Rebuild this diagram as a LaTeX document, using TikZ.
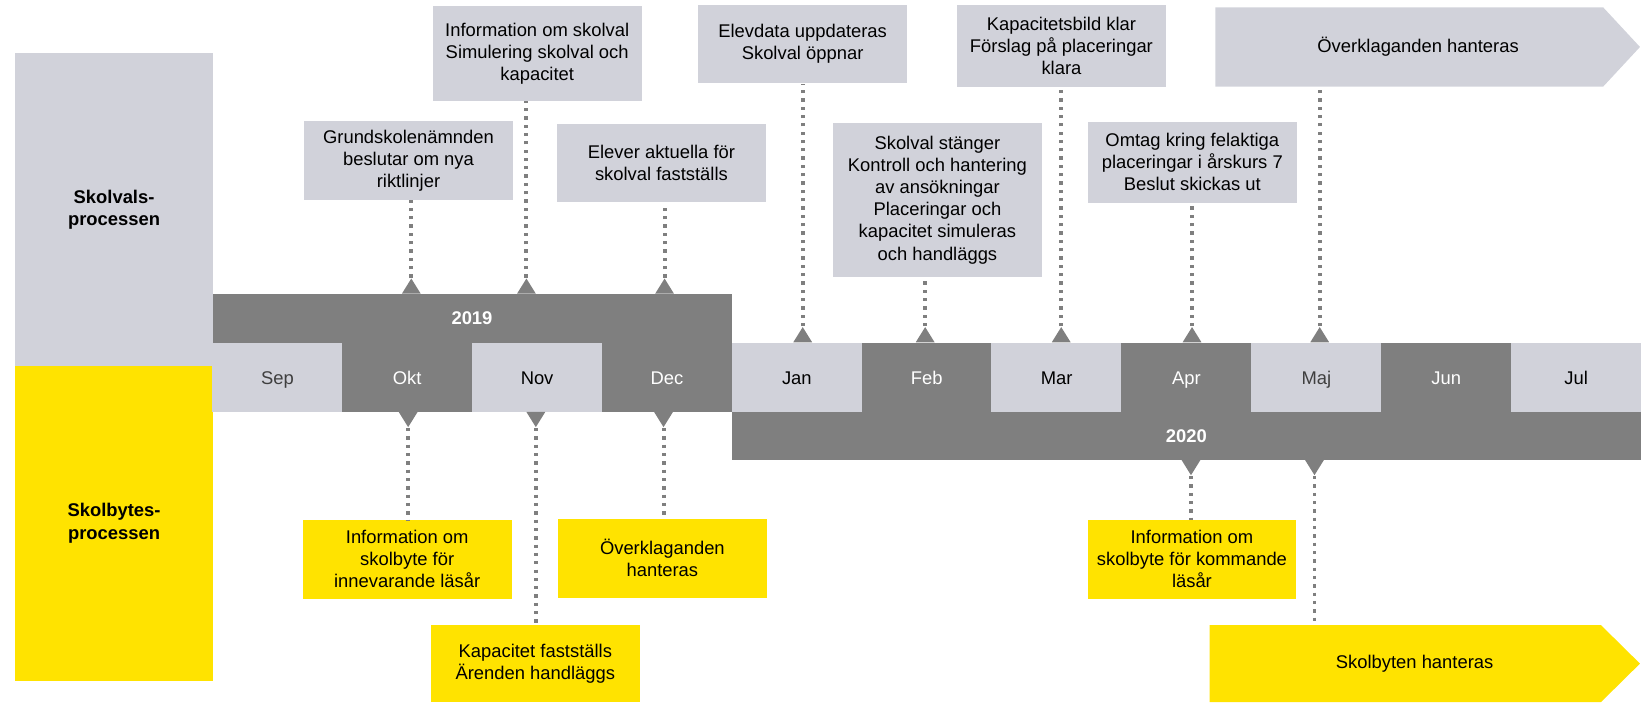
\documentclass[tikz,border=0pt]{standalone}
\usepackage{fontspec}
\setmainfont{Liberation Sans}
\usetikzlibrary{shapes.geometric}
\definecolor{lgrey}{HTML}{D1D2DA}
\definecolor{dgrey}{HTML}{7F7F7F}
\definecolor{ylw}{HTML}{FFE300}
\definecolor{mtext}{HTML}{3F3F3F}
\begin{document}
\begin{tikzpicture}[x=0.02cm,y=-0.02cm]
\tikzstyle{every node}+=[inner sep=0pt, font=\fontsize{10}{12}\selectfont, align=center]
\tikzstyle{bold}=[font=\fontsize{10}{12}\selectfont\bfseries]
\tikzstyle{gbox}=[fill=lgrey, minimum width=3.99cm, minimum height=1.5cm]
\tikzstyle{ybox}=[fill=ylw, minimum width=3.99cm, minimum height=1.5cm]
\tikzstyle{lmon}=[fill=lgrey, minimum width=2.49cm, minimum height=1.32cm, text height=7.5pt, text depth=0pt]
\tikzstyle{dmon}=[lmon, fill=dgrey, text=white]
\tikzstyle{upmark}=[isosceles triangle, shape border rotate=90, isosceles triangle stretches, fill=dgrey, minimum width=0.36cm, minimum height=0.29cm, anchor=lower side]
\tikzstyle{downmark}=[upmark, shape border rotate=270]
\tikzstyle{link}=[dgrey, line width=0.076cm, dash pattern=on 0.063cm off 0.096cm]
\useasboundingbox (0,0) rectangle (1568,671);
% process labels
\node[bold, fill=lgrey, minimum width=3.78cm, minimum height=5.98cm] (skolval) at (109,200) {Skolvals-\\processen};
\node[bold, fill=ylw, minimum width=3.78cm, minimum height=6.02cm] (skolbyte) at (109,500) {Skolbytes-\\processen};
% years
\node[bold, fill=dgrey, text=white, minimum width=9.92cm, minimum height=0.93cm] (y19) at (451,304.2) {2019};
\node[bold, fill=dgrey, text=white, minimum width=17.38cm, minimum height=0.92cm] (y20) at (1133.5,416.3) {2020};
% months
\node[lmon, text=mtext] (sep) at (265.05,360.4) {Sep};
\node[dmon] (okt) at (389.1,360.4) {Okt};
\node[lmon] (nov) at (513.2,360.4) {Nov};
\node[dmon] (dec) at (637.3,360.4) {Dec};
\node[lmon] (jan) at (761.4,360.4) {Jan};
\node[dmon] (feb) at (885.5,360.4) {Feb};
\node[lmon] (mar) at (1009.6,360.4) {Mar};
\node[dmon] (apr) at (1133.7,360.4) {Apr};
\node[lmon, text=mtext] (maj) at (1257.8,360.4) {Maj};
\node[dmon] (jun) at (1381.9,360.4) {Jun};
\node[lmon] (jul) at (1506,360.4) {Jul};
% skolval events
\node[gbox] (g1) at (390.3,153.2) {Grundskolenämnden\\beslutar om nya\\riktlinjer};
\node[gbox, minimum height=1.81cm] (g2) at (513.3,51) {Information om skolval\\Simulering skolval och\\kapacitet};
\node[gbox] (g3) at (632,156) {Elever aktuella för\\skolval fastställs};
\node[gbox] (g4) at (766.9,42.2) {Elevdata uppdateras\\Skolval öppnar};
\node[gbox, minimum height=2.93cm] (g5) at (895.7,191.2) {Skolval stänger\\Kontroll och hantering\\av ansökningar\\Placeringar och\\kapacitet simuleras\\och handläggs};
\node[gbox, minimum height=1.56cm] (g6) at (1014.2,43.8) {Kapacitetsbild klar\\Förslag på placeringar\\klara};
\node[gbox, minimum height=1.55cm] (g7) at (1139.3,155) {Omtag kring felaktiga\\placeringar i årskurs 7\\Beslut skickas ut};
\fill[lgrey] (1161.4,7) -- (1531.8,7) -- (1567,44.9) -- (1531.8,82.8) -- (1161.4,82.8) -- cycle;
\node[minimum height=1.52cm] (g8) at (1355,44.9) {Överklaganden hanteras};
% skolbyte events
\node[ybox] (b1) at (389.1,534.4) {Information om\\skolbyte för\\innevarande läsår};
\node[ybox, minimum height=1.48cm] (b2) at (511.5,634.1) {Kapacitet fastställs\\Ärenden handläggs};
\node[ybox] (b3) at (632.9,533.5) {Överklaganden\\hanteras};
\node[ybox] (b4) at (1138.9,534.4) {Information om\\skolbyte för kommande\\läsår};
\fill[ylw] (1155.8,597.2) -- (1529.6,597.2) -- (1567,634.1) -- (1529.6,671) -- (1155.8,671) -- cycle;
\node[minimum height=1.48cm] (b5) at (1351.7,634.1) {Skolbyten hanteras};
% markers
\node[upmark] (u1) at (393,281) {};
\node[upmark] (u2) at (503,281) {};
\node[upmark] (u3) at (635,281) {};
\node[upmark] (u4) at (767,327.4) {};
\node[upmark] (u5) at (884,327.4) {};
\node[upmark] (u6) at (1014,327.4) {};
\node[upmark] (u7) at (1139,327.4) {};
\node[upmark] (u8) at (1261,327.4) {};
\node[downmark] (d1) at (390,393.3) {};
\node[downmark] (d2) at (512,393.3) {};
\node[downmark] (d3) at (634,393.3) {};
\node[downmark] (d4) at (1138,439.2) {};
\node[downmark] (d5) at (1256,439.2) {};
% connectors
\draw[link] (u1.apex) -- (u1.apex |- g1.south);
\draw[link] (u2.apex) -- (u2.apex |- g2.south);
\draw[link] (u3.apex) -- (u3.apex |- g3.south);
\draw[link] (u4.apex) -- (u4.apex |- g4.south);
\draw[link] (u5.apex) -- (u5.apex |- g5.south);
\draw[link] (u6.apex) -- (u6.apex |- g6.south);
\draw[link] (u7.apex) -- (u7.apex |- g7.south);
\draw[link] (u8.apex) -- (u8.apex |- g8.south);
\draw[link] (d1.apex) -- (d1.apex |- b1.north);
\draw[link] (d2.apex) -- (d2.apex |- b2.north);
\draw[link] (d3.apex) -- (d3.apex |- b3.north);
\draw[link] (d4.apex) -- (d4.apex |- b4.north);
\draw[link] (d5.apex) -- (d5.apex |- b5.north);
\end{tikzpicture}
\end{document}
